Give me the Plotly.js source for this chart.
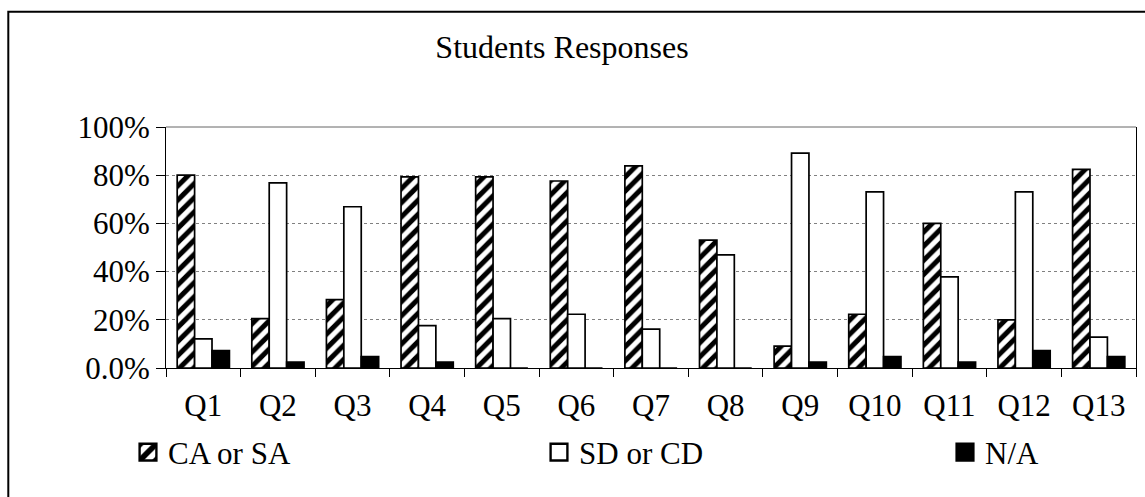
<!DOCTYPE html>
<html>
<head>
<meta charset="utf-8">
<script src="https://cdn.plot.ly/plotly-3.0.1.min.js"></script>
<style>
  html, body { margin: 0; padding: 0; background: #fff; }
  #chart { width: 1145px; height: 497px; }
</style>
</head>
<body>
<div id="chart"></div>
<script>
// Data (percent of students)
var categories = ["Q1","Q2","Q3","Q4","Q5","Q6","Q7","Q8","Q9","Q10","Q11","Q12","Q13"];
var caOrSa = [80.0, 20.5, 28.4, 79.3, 79.3, 77.6, 83.9, 53.1, 9.1, 22.3, 60.0, 20.0, 82.4];
var sdOrCd = [12.1, 76.8, 66.9, 17.6, 20.5, 22.3, 16.1, 46.9, 89.2, 73.1, 37.8, 73.1, 12.8];
var notApplicable = [7.2, 2.5, 4.7, 2.5, 0, 0, 0, 0, 2.5, 4.7, 2.5, 7.2, 4.7];
var seriesNames = ["CA or SA", "SD or CD", "N/A"];
var yTickVals = [0, 20, 40, 60, 80, 100];
var yTickText = ["0.0%", "20%", "40%", "60%", "80%", "100%"];

var FONT = "'Liberation Serif', 'Times New Roman', Times, serif";
var FS = 31;

var traces = [
  {
    type: "bar", name: seriesNames[0], x: categories, y: caOrSa, legend: "legend",
    marker: {
      color: "#ffffff",
      line: { color: "#000000", width: 1.7 },
      pattern: { shape: "/", fgcolor: "#000000", bgcolor: "#ffffff", size: 10, solidity: 0.5 }
    }
  },
  {
    type: "bar", name: seriesNames[1], x: categories, y: sdOrCd, legend: "legend2",
    marker: { color: "#ffffff", line: { color: "#000000", width: 1.7 } }
  },
  {
    type: "bar", name: seriesNames[2], x: categories, y: notApplicable, legend: "legend3",
    marker: { color: "#000000", line: { color: "#000000", width: 1.7 } }
  }
];

function legendAt(px) {
  return {
    orientation: "h",
    x: (px - 166) / 970, xanchor: "left",
    y: (368.3 - 453) / 241.6, yanchor: "middle",
    font: { family: FONT, size: FS, color: "#000000" },
    bgcolor: "rgba(0,0,0,0)"
  };
}

var layout = {
  width: 1145, height: 497,
  margin: { l: 166, r: 9, t: 127, b: 129 },
  paper_bgcolor: "#ffffff", plot_bgcolor: "#ffffff",
  font: { family: FONT, color: "#000000", size: FS },
  title: {
    text: "Students Responses",
    font: { family: FONT, size: 32, color: "#000000" },
    xref: "container", yref: "container",
    x: 562 / 1145, xanchor: "center",
    y: 1 - 47 / 497, yanchor: "middle"
  },
  barmode: "group", bargap: 0.30, bargroupgap: 0,
  showlegend: true,
  legend: legendAt(128),
  legend2: legendAt(539),
  legend3: legendAt(945),
  xaxis: {
    type: "category",
    tickson: "boundaries",
    ticks: "outside", ticklen: 8, tickcolor: "#000000", tickwidth: 1,
    showline: true, linecolor: "#000000", linewidth: 1,
    showgrid: false,
    tickfont: { family: FONT, size: FS, color: "#000000" },
    ticklabelstandoff: 10,
    fixedrange: true
  },
  yaxis: {
    range: [0, 100],
    tickvals: yTickVals, ticktext: yTickText,
    ticks: "outside", ticklen: 9, tickcolor: "#000000", tickwidth: 1,
    showline: true, linecolor: "#000000", linewidth: 1, mirror: true,
    showgrid: true, gridcolor: "#808080", gridwidth: 1, griddash: "dot",
    zeroline: false,
    tickfont: { family: FONT, size: FS, color: "#000000" },
    fixedrange: true
  },
  shapes: [
    { type: "line", xref: "paper", yref: "paper", x0: 0, x1: 1, y0: 1, y1: 1,
      line: { color: "#666666", width: 1 } },
    { type: "rect", xref: "paper", yref: "paper",
      x0: (8.3 - 166) / 970, x1: 1.03,
      y0: -0.6, y1: (368 - 11.7) / 241,
      line: { color: "#000000", width: 2 }, fillcolor: "rgba(0,0,0,0)", layer: "above" }
  ]
};

Plotly.newPlot("chart", traces, layout, { displayModeBar: false, staticPlot: true }).then(function (gd) {
  // enlarge the legend swatches to match the reference's larger squares
  gd.querySelectorAll(".legendpoints path").forEach(function (p) {
    var t = p.getAttribute("transform") || "";
    p.setAttribute("transform", (t + " scale(1.4)").trim());
  });
});
</script>
</body>
</html>
